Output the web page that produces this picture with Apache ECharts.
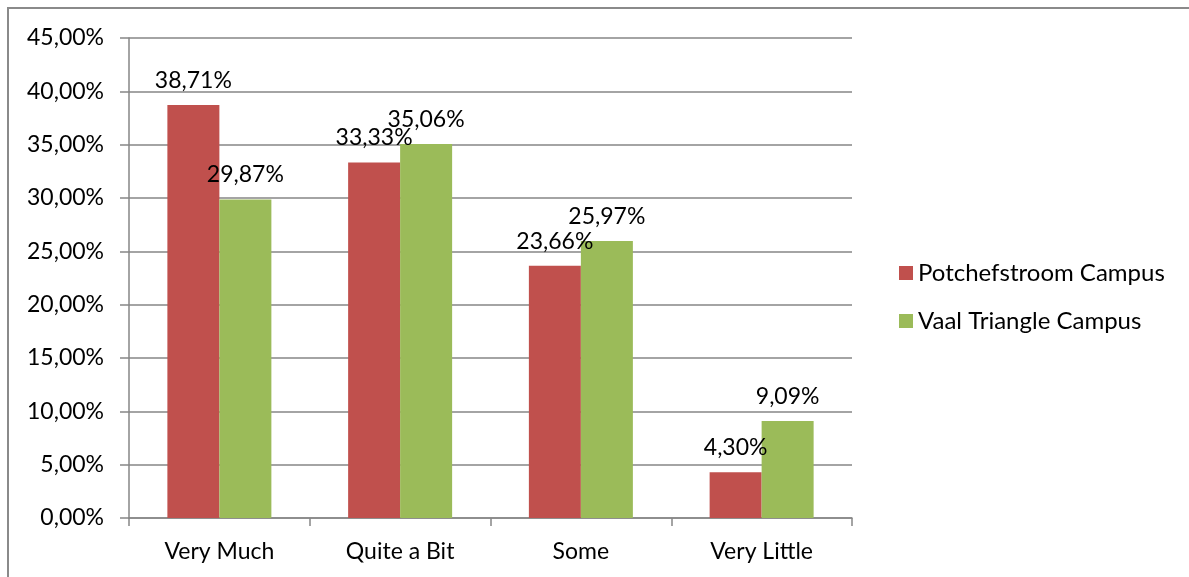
<!DOCTYPE html>
<html><head><meta charset="utf-8">
<script src="https://cdn.jsdelivr.net/npm/echarts@6/dist/echarts.min.js"></script>
<style>
html,body{margin:0;padding:0;background:#fff;}
#frame{position:absolute;left:7px;top:7px;width:1182px;height:570px;border-top:2px solid #8a8a8a;border-left:2px solid #8a8a8a;box-sizing:border-box;}
#c{position:absolute;left:0;top:0;width:1189px;height:577px;}
</style></head>
<body>
<div id="frame"></div>
<div id="c"></div>
<script>
const categories = ['Very Much', 'Quite a Bit', 'Some', 'Very Little'];
const potchefstroom = [38.71, 33.33, 23.66, 4.30];
const vaal = [29.87, 35.06, 25.97, 9.09];
const seriesNames = ['Potchefstroom Campus', 'Vaal Triangle Campus'];

const fmt = v => v.toFixed(2).replace('.', ',') + '%';
const FONT = 'Lato, "Open Sans", sans-serif';
const FS = 23;
const chart = echarts.init(document.getElementById('c'));
const labelCfg = {
  show: true, position: 'top', distance: 13, color: '#000',
  fontFamily: FONT, fontSize: FS,
  formatter: p => fmt(p.value)
};
chart.setOption({
  animation: false,
  textStyle: { fontFamily: FONT },
  grid: { left: 129, right: 337, top: 38, bottom: 59, containLabel: false },
  legend: {
    orient: 'vertical', left: 894, top: 256, itemGap: 24,
    itemWidth: 14, itemHeight: 14, icon: 'rect',
    textStyle: { fontFamily: FONT, fontSize: 24, color: '#000' },
    data: seriesNames
  },
  xAxis: {
    type: 'category', data: categories,
    axisLine: { lineStyle: { color: '#868686', width: 1.5 } },
    axisTick: { show: true, length: 8, alignWithLabel: false, lineStyle: { color: '#868686', width: 1.5 } },
    axisLabel: { color: '#000', fontFamily: FONT, fontSize: FS, margin: 22 }
  },
  yAxis: {
    type: 'value', min: 0, max: 45, interval: 5,
    axisLine: { show: true, lineStyle: { color: '#868686', width: 1.5 } },
    axisTick: { show: true, length: 9, lineStyle: { color: '#868686', width: 1.5 } },
    splitLine: { lineStyle: { color: '#868686', width: 1.5 } },
    axisLabel: { color: '#000', fontFamily: FONT, fontSize: FS, margin: 25, formatter: v => fmt(v) }
  },
  series: [
    { name: seriesNames[0], type: 'bar', data: potchefstroom, barWidth: 52, barGap: '0%',
      itemStyle: { color: '#C0504D' }, label: labelCfg },
    { name: seriesNames[1], type: 'bar', data: vaal, barWidth: 52, barGap: '0%',
      itemStyle: { color: '#9BBB59' }, label: labelCfg }
  ]
});
</script>
</body></html>
